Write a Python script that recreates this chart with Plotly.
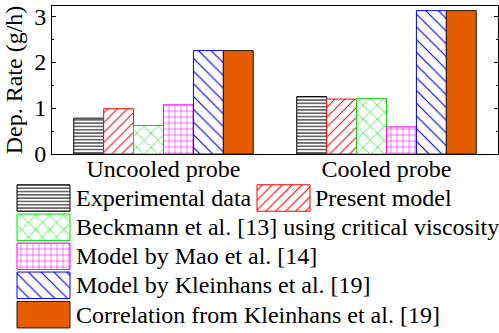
import plotly.graph_objects as go

categories = ["Uncooled probe", "Cooled probe"]
series_names = [
    "Experimental data",
    "Present model",
    "Beckmann et al. [13] using critical viscosity",
    "Model by Mao et al. [14]",
    "Model by Kleinhans et al. [19]",
    "Correlation from Kleinhans et al. [19]",
]
experimental = [0.78, 1.25]
present_model = [0.985, 1.195]
beckmann = [0.62, 1.21]
mao = [1.07, 0.59]
kleinhans_model = [2.25, 3.12]
kleinhans_corr = [2.25, 3.12]
values = [experimental, present_model, beckmann, mao, kleinhans_model, kleinhans_corr]

y_ticks = [0, 1, 2, 3]

FONT = "Liberation Serif"
FS = 24
W, H = 499, 333

styles = [
    dict(fg="#000000", shape="-", size=3.3, sol=0.3, line="#000000", bg="white"),
    dict(fg="#ff0000", shape="/", size=7, sol=0.15, line="#ff0000", bg="white"),
    dict(fg="#00e600", shape="x", size=10, sol=0.12, line="#00e600", bg="white"),
    dict(fg="#ff00ff", shape="+", size=6, sol=0.17, line="#ff00ff", bg="white"),
    dict(fg="#0000ff", shape="\\", size=9, sol=0.13, line="#0000ff", bg="white"),
    dict(fg="#e65c00", shape="", size=8, sol=0.2, line="#1a1a1a", bg="#e65c00"),
]

# legend layout (pixel coordinates within legend panel)
legend_pos = [  # (swatch left, text left, row centre y)
    (17, 77, 198),
    (257, 316, 198),
    (17, 77, 227.3),
    (17, 77, 256.3),
    (17, 77, 285.3),
    (17, 77, 314.7),
]
SW_W, SW_H = 53, 26.5

fig = go.Figure()

def make_marker(st):
    marker = dict(color=st["bg"], line=dict(color=st["line"], width=1))
    if st["shape"]:
        marker["pattern"] = dict(shape=st["shape"], fgcolor=st["fg"], bgcolor=st["bg"],
                                 size=st["size"], solidity=st["sol"], fillmode="replace")
    return marker

for name, vals, st in zip(series_names, values, styles):
    fig.add_trace(go.Bar(x=categories, y=vals, name=name, marker=make_marker(st),
                         showlegend=False, xaxis="x", yaxis="y"))

annotations = []
for name, st, (sx, tx, cy) in zip(series_names, styles, legend_pos):
    fig.add_trace(go.Bar(y=[cy], x=[SW_W], base=[sx], orientation="h", width=[SW_H],
                         offset=-SW_H / 2, marker=make_marker(st), showlegend=False,
                         hoverinfo="skip", xaxis="x2", yaxis="y2"))
    annotations.append(dict(x=tx, y=cy, xref="x2", yref="y2", text=name, showarrow=False,
                            xanchor="left", yanchor="middle", xshift=-3,
                            font=dict(family=FONT, size=FS, color="black")))

fig.update_layout(
    template="none",
    width=W, height=H, autosize=False,
    margin=dict(l=0, r=0, t=0, b=0, pad=0),
    paper_bgcolor="white", plot_bgcolor="white",
    barmode="group", bargap=0.195, bargroupgap=0,
    font=dict(family=FONT, size=FS, color="black"),
    showlegend=False,
    annotations=annotations,
    xaxis=dict(domain=[52 / W, 498 / W], anchor="y", range=[-0.5, 1.5], automargin=False,
               showline=True, linecolor="black", linewidth=1, mirror=True,
               ticks="", showgrid=False, ticklabelstandoff=-7,
               tickfont=dict(family=FONT, size=FS, color="black")),
    yaxis=dict(domain=[(H - 154) / H, (H - 6) / H], anchor="x", range=[0, 3.22], automargin=False,
               tickvals=y_ticks, ticks="inside", ticklen=4, tickcolor="black",
               minor=dict(dtick=0.5, ticks="inside", ticklen=2, tickcolor="black"),
               showline=True, linecolor="black", linewidth=1, mirror="allticks",
               showgrid=False, zeroline=False,
               title=dict(text="Dep. Rate (g/h)", font=dict(family=FONT, size=FS, color="black"), standoff=4),
               tickfont=dict(family=FONT, size=FS, color="black")),
    xaxis2=dict(domain=[0, 1], anchor="y2", range=[0, W], visible=False, fixedrange=True,
                automargin=False, showgrid=False, zeroline=False),
    yaxis2=dict(domain=[0, (H - 180) / H], anchor="x2", range=[H, 180], visible=False,
                fixedrange=True, automargin=False, showgrid=False, zeroline=False),
)

fig.write_html("out.html", config={"displayModeBar": False},
               post_script="document.body.style.margin='0';document.body.style.overflow='hidden';")
